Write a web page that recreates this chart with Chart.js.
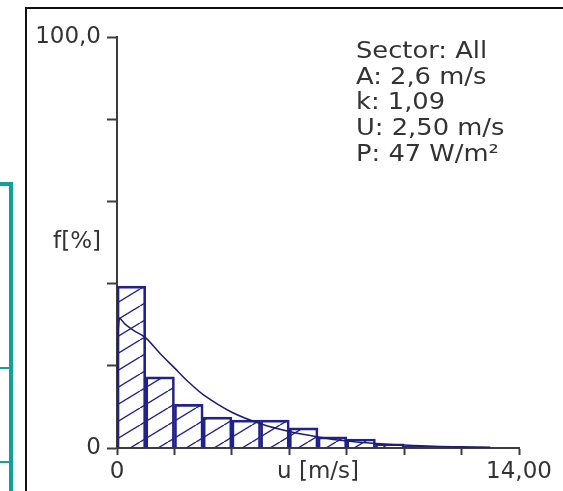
<!DOCTYPE html>
<html>
<head>
<meta charset="utf-8">
<script src="https://cdn.jsdelivr.net/npm/chart.js@4"></script>
<style>
  html, body { margin: 0; padding: 0; background: #fff; }
  #wrap { width: 563px; height: 491px; position: relative; }
</style>
</head>
<body>
<div id="wrap"><canvas id="chart"></canvas></div>
<script>
// histogram bins (m/s) and frequency (%)
const binCenters = [0.5, 1.5, 2.5, 3.5, 4.5, 5.5, 6.5, 7.5, 8.5, 9.5, 10.5, 11.5, 12.5];
const binFreq = [39.4, 17.3, 10.6, 7.5, 6.8, 6.8, 4.9, 2.7, 2.2, 1.0, 0.4, 0.3, 0.2];

// fitted curve
const curveU = [0, 0.08, 0.3, 0.6, 1, 1.5, 2, 2.5, 3, 4, 5, 6, 7, 8, 9, 10, 11, 12, 13];
const curveF = [15.5, 31.5, 30, 28.5, 26.8, 23, 19.5, 16, 13, 8.7, 5.9, 4.0, 2.7, 1.7, 1.1, 0.7, 0.4, 0.3, 0.2];

const infoLines = ["Sector: All", "A: 2,6 m/s", "k: 1,09", "U: 2,50 m/s", "P: 47 W/m\u00b2"];

const navy = "#22228c";
const axisColor = "#3c3c3c";
const fontFamily = "'DejaVu Sans', Verdana, sans-serif";

function hatch() {
    const c = document.createElement("canvas");
    c.width = 28; c.height = 17;
    const g = c.getContext("2d");
    g.strokeStyle = navy;
    g.lineWidth = 1.4;
    for (let dx = -28; dx <= 28; dx += 28) {
        g.beginPath();
        g.moveTo(dx, 17);
        g.lineTo(dx + 28, 0);
        g.stroke();
    }
    return g.createPattern(c, "repeat");
}

const frame = {
    id: "frame",
    beforeDraw(chart) {
        const ctx = chart.ctx;
        ctx.save();
        ctx.fillStyle = "#fff";
        ctx.fillRect(0, 0, chart.width, chart.height);
        // black window border
        ctx.strokeStyle = "#111";
        ctx.lineWidth = 2;
        ctx.beginPath();
        ctx.moveTo(26, chart.height);
        ctx.lineTo(26, 8);
        ctx.lineTo(chart.width, 8);
        ctx.stroke();
        // teal panel edge on the left
        ctx.strokeStyle = "#11a09a";
        ctx.lineWidth = 4;
        ctx.beginPath();
        ctx.moveTo(0, 184);
        ctx.lineTo(11, 184);
        ctx.lineTo(11, chart.height);
        ctx.stroke();
        ctx.lineWidth = 2;
        ctx.beginPath();
        ctx.moveTo(0, 368); ctx.lineTo(11, 368);
        ctx.moveTo(0, 462); ctx.lineTo(11, 462);
        ctx.stroke();
        ctx.restore();
    },
    afterDraw(chart) {
        const ctx = chart.ctx;
        ctx.save();
        ctx.fillStyle = "#333";
        ctx.font = "23px " + fontFamily;
        ctx.textBaseline = "middle";
        ctx.translate(356, 0);
        ctx.scale(1.12, 1);
        infoLines.forEach((t, i) => {
            ctx.fillText(t, 0, 52 + i * 25.7);
        });
        ctx.restore();
    }
};

const yLabels = { 0: "0", 50: "f[%]", 100: "100,0" };
const xLabels = { 0: "0", 7: "u [m/s]", 14: "14,00" };

window.myChart = new Chart(document.getElementById("chart").getContext("2d"), {
    data: {
        datasets: [{
            type: "line",
            data: curveU.map((u, i) => ({ x: u, y: curveF[i] })),
            borderColor: "#1c1c78",
            borderWidth: 1.5,
            pointRadius: 0,
            tension: 0.3,
            order: 0
        }, {
            type: "bar",
            data: binCenters.map((u, i) => ({ x: u, y: binFreq[i] })),
            backgroundColor: hatch(),
            borderColor: navy,
            borderWidth: 2,
            barPercentage: 1,
            categoryPercentage: 1,
            grouped: false,
            order: 1
        }]
    },
    options: {
        responsive: true,
        maintainAspectRatio: false,
        animation: false,
        layout: {
            padding: { top: 37, left: 25, right: 44, bottom: 0 }
        },
        plugins: {
            legend: { display: false },
            tooltip: { enabled: false }
        },
        scales: {
            x: {
                type: "linear",
                offset: false,
                min: 0,
                max: 14,
                afterFit: (scale) => { scale.height = 43; },
                border: { display: true, color: axisColor, width: 2 },
                grid: {
                    offset: false,
                    drawOnChartArea: false,
                    tickLength: 7,
                    tickWidth: 2,
                    tickColor: (c) => (c.tick && c.tick.value % 2 === 0 ? axisColor : "rgba(0,0,0,0)")
                },
                ticks: {
                    stepSize: 1,
                    autoSkip: false,
                    maxRotation: 0,
                    padding: 3,
                    color: "#333",
                    font: { family: fontFamily, size: 23 },
                    callback: (v) => xLabels[v] || ""
                }
            },
            y: {
                min: 0,
                max: 100,
                afterFit: (scale) => { scale.width = 92; },
                border: { display: true, color: axisColor, width: 2 },
                grid: {
                    drawOnChartArea: false,
                    tickLength: 10,
                    tickWidth: 2,
                    tickColor: (c) => (c.tick && c.tick.value % 20 === 0 ? axisColor : "rgba(0,0,0,0)")
                },
                ticks: {
                    stepSize: 10,
                    autoSkip: false,
                    padding: 6,
                    color: "#333",
                    font: { family: fontFamily, size: 23 },
                    callback: (v) => yLabels[v] || ""
                }
            }
        }
    },
    plugins: [frame]
});
</script>
</body>
</html>
